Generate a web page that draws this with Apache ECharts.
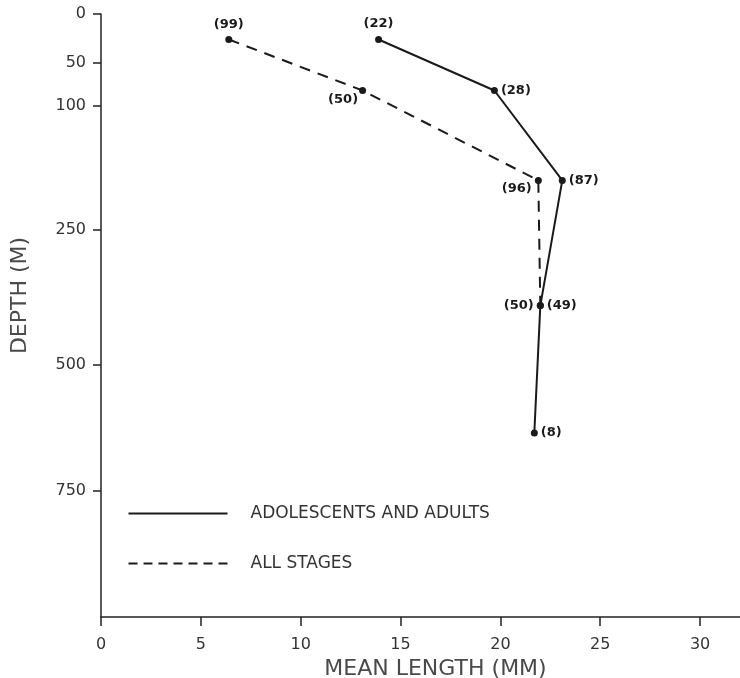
<!DOCTYPE html>
<html>
<head>
<meta charset="utf-8">
<script src="https://cdn.jsdelivr.net/npm/echarts@6/dist/echarts.min.js"></script>
<style>
  html, body { margin: 0; padding: 0; background: #fff; }
  #chart { width: 740px; height: 678px; }
</style>
</head>
<body>
<div id="chart"></div>
<script>
// Depth zone boundaries (m) and where each one sits along the (non-linear) depth axis
const depthTicks = [0, 50, 100, 250, 500, 750, 1000];
const depthAxisPos = [0, 49, 92, 216, 351, 477, 603];
const depthLabels = ['0', '50', '100', '250', '500', '750'];

// Mean length (mm) by depth, with number of specimens measured
const adultDepths = [26, 82, 190, 390, 635];
const adultLength = [13.9, 19.7, 23.1, 22.0, 21.7];
const adultCounts = [22, 28, 87, 49, 8];

const allDepths = [26, 82, 190, 390];
const allLength = [6.4, 13.1, 21.9, 22.0];
const allCounts = [99, 50, 96, 50];

const lengthTicks = [0, 5, 10, 15, 20, 25, 30];

// Piecewise-linear transform from depth to axis position
function depthToPos(d) {
  for (let i = 0; i < depthTicks.length - 1; i++) {
    if (d <= depthTicks[i + 1]) {
      const t = (d - depthTicks[i]) / (depthTicks[i + 1] - depthTicks[i]);
      return depthAxisPos[i] + t * (depthAxisPos[i + 1] - depthAxisPos[i]);
    }
  }
  return depthAxisPos[depthAxisPos.length - 1];
}

// Where each count label sits relative to its point
const adultLabelPos = ['top', 'right', 'right', 'right', 'right'];
const allLabelPos = ['top', 'left', 'left', 'left'];

const labelFont = {
  fontFamily: 'DejaVu Sans',
  fontWeight: 'bold',
  fontSize: 13,
  color: '#1a1a1a'
};

function buildData(lengths, depths, counts, placements, extra) {
  return lengths.map((v, i) => ({
    value: [v, depthToPos(depths[i])],
    label: Object.assign({
      show: true,
      position: placements[i],
      distance: 3,
      formatter: '(' + counts[i] + ')'
    }, labelFont, (extra && extra[i]) || {})
  }));
}

const allExtra = [
  { distance: 5 },
  { offset: [2, 9] },
  { offset: [0, 8] },
  {}
];
const adultExtra = [
  { distance: 6 },
  {},
  {},
  {},
  {}
];

const chart = echarts.init(document.getElementById('chart'), null, { renderer: 'canvas' });

const axisText = { fontFamily: 'DejaVu Sans', fontSize: 16, color: '#333' };
const titleText = { fontFamily: 'DejaVu Sans', fontSize: 22, color: '#4a4a4a' };
const legendText = { fontFamily: 'DejaVu Sans', fontSize: 17, fill: '#333', verticalAlign: 'middle' };

chart.setOption({
  animation: false,
  backgroundColor: '#ffffff',
  grid: { left: 101, right: 0, top: 14, bottom: 61, containLabel: false, outerBoundsMode: 'none' },
  xAxis: {
    type: 'value',
    position: 'bottom',
    min: 0,
    max: 32,
    name: 'MEAN LENGTH (MM)',
    nameLocation: 'middle',
    nameGap: 40,
    nameTextStyle: Object.assign({ padding: [0, 0, 0, 30] }, titleText),
    axisLine: { show: true, onZero: false, lineStyle: { color: '#222', width: 1.5 } },
    axisTick: { show: true, inside: false, length: 9, lineStyle: { color: '#222', width: 1.5 }, customValues: lengthTicks },
    axisLabel: Object.assign({ margin: 20, customValues: lengthTicks }, axisText),
    splitLine: { show: false }
  },
  yAxis: {
    type: 'value',
    inverse: true,
    min: 0,
    max: depthAxisPos[depthAxisPos.length - 1],
    name: 'DEPTH (M)',
    nameLocation: 'middle',
    nameRotate: 90,
    nameGap: 70,
    nameTextStyle: Object.assign({ padding: [0, 0, 0, 40] }, titleText),
    axisLine: { show: true, onZero: false, lineStyle: { color: '#222', width: 1.5 } },
    axisTick: { show: true, inside: false, length: 8, lineStyle: { color: '#222', width: 1.5 }, customValues: depthAxisPos.slice(0, depthLabels.length) },
    axisLabel: Object.assign({
      margin: 15,
      customValues: depthAxisPos.slice(0, depthLabels.length),
      formatter: function (v) {
        const i = depthAxisPos.indexOf(v);
        return i >= 0 ? depthLabels[i] : '';
      }
    }, axisText),
    splitLine: { show: false }
  },
  series: [
    {
      name: 'ADOLESCENTS AND ADULTS',
      type: 'line',
      data: buildData(adultLength, adultDepths, adultCounts, adultLabelPos, adultExtra),
      symbol: 'circle',
      symbolSize: 7,
      itemStyle: { color: '#1a1a1a' },
      lineStyle: { color: '#1a1a1a', width: 2 },
      z: 3
    },
    {
      name: 'ALL STAGES',
      type: 'line',
      data: buildData(allLength, allDepths, allCounts, allLabelPos, allExtra),
      symbol: 'circle',
      symbolSize: 7,
      itemStyle: { color: '#1a1a1a' },
      lineStyle: { color: '#1a1a1a', width: 2, type: [11, 8] },
      z: 2
    }
  ],
  graphic: [
    {
      type: 'group',
      left: 126,
      top: 505,
      children: [
        { type: 'line', shape: { x1: 0, y1: 8, x2: 99, y2: 8 }, style: { stroke: '#1a1a1a', lineWidth: 2 } },
        { type: 'text', x: 122, y: 8, style: Object.assign({ text: 'ADOLESCENTS AND ADULTS' }, legendText) },
        { type: 'line', shape: { x1: 0, y1: 58, x2: 99, y2: 58 }, style: { stroke: '#1a1a1a', lineWidth: 2, lineDash: [9, 6] } },
        { type: 'text', x: 122, y: 58, style: Object.assign({ text: 'ALL STAGES' }, legendText) }
      ]
    }
  ]
});
</script>
</body>
</html>
